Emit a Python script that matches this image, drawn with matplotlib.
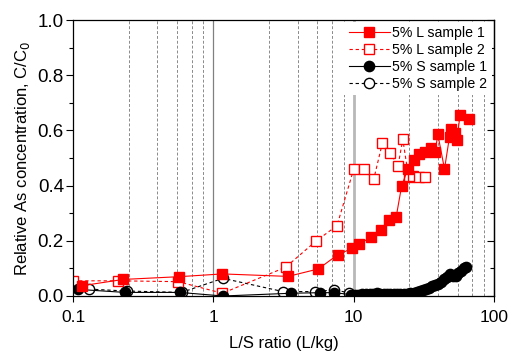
import matplotlib
matplotlib.use("Agg")
import matplotlib.pyplot as plt
from matplotlib.ticker import FixedLocator, NullLocator, MultipleLocator

plt.rcParams['font.family'] = ['Liberation Sans', 'DejaVu Sans']

# ---- data ----
l1_x = [0.115, 0.228, 0.571, 1.16, 3.41, 5.6, 7.73, 9.8, 11.0, 13.4, 15.6, 18.0, 20.1, 22.0,
        24.4, 26.7, 29.2, 32.0, 35.7, 38.1, 39.8, 44.4, 48.2, 49.5, 52.5, 54.3, 57.4, 65.9]
l1_y = [0.037, 0.060, 0.070, 0.080, 0.071, 0.098, 0.150, 0.173, 0.188, 0.215, 0.239, 0.275, 0.287, 0.400,
        0.461, 0.493, 0.513, 0.523, 0.535, 0.523, 0.586, 0.460, 0.577, 0.604, 0.590, 0.565, 0.656, 0.641]

l2_x = [0.10, 0.21, 0.56, 1.16, 3.27, 5.42, 7.61, 10.0, 11.8, 13.9, 16.0, 18.3, 20.7, 22.4,
        24.6, 26.6, 29.2, 32.1]
l2_y = [0.055, 0.055, 0.052, 0.010, 0.104, 0.200, 0.255, 0.459, 0.459, 0.423, 0.553, 0.517, 0.471, 0.568,
        0.432, 0.436, 0.432, 0.430]

s1_x = [0.109, 0.234, 0.574, 1.17, 3.6, 5.8, 7.3,
        9.6, 10.2, 10.8, 11.5, 12.2, 13.0, 13.8, 14.6, 15.5, 16.4, 17.3, 18.3, 19.3, 20.4, 21.5,
        22.7, 24.0, 25.3, 26.7, 28.1, 29.6, 31.2, 32.8, 34.5, 36.3, 38.2, 40.1, 42.1, 44.2, 46.4,
        48.6, 50.9, 53.3, 55.8, 58.3, 60.9, 63.5]
s1_y = [0.024, 0.013, 0.013, 0.000, 0.010, 0.012, 0.012,
        0.005, 0.004, 0.005, 0.006, 0.008, 0.009, 0.009, 0.010, 0.009, 0.009, 0.008, 0.008, 0.008, 0.007, 0.007,
        0.008, 0.009, 0.010, 0.012, 0.015, 0.018, 0.022, 0.026, 0.030, 0.035, 0.040, 0.045, 0.052, 0.060, 0.070,
        0.080, 0.072, 0.074, 0.082, 0.092, 0.100, 0.105]

s2_x = [0.13, 0.241, 0.594, 1.17, 3.14, 5.28, 7.3, 9.2]
s2_y = [0.025, 0.018, 0.013, 0.064, 0.016, 0.016, 0.022, 0.012]

stage_dashed = [0.25, 0.4, 0.55, 0.7, 0.85, 2.5, 4, 5.5, 7, 8.5, 25, 40, 55, 70, 85]

xticks = [0.1, 1, 10, 100]
xtick_labels = ['0.1', '1', '10', '100']
yticks = [0.0, 0.2, 0.4, 0.6, 0.8, 1.0]

labels = ['5% L sample 1', '5% L sample 2', '5% S sample 1', '5% S sample 2']

# ---- figure ----
fig = plt.figure(figsize=(5.12, 3.51), dpi=100)
ax = fig.add_axes([0.1426, 0.1567, 0.8222, 0.7863])
ax.set_xscale('log')
ax.set_xlim(0.1, 100)
ax.set_ylim(0.0, 1.0)

for v in stage_dashed:
    ax.axvline(v, color='#8a8a8a', lw=0.7, ls=(0, (3, 2)), zorder=0)
ax.axvline(1, color='#808080', lw=0.9, zorder=0)
ax.axvline(10, color='#b8b8b8', lw=2.0, zorder=0)

ms = 7.4
h_s2, = ax.plot(s2_x, s2_y, ls='--', color='black', lw=0.8, marker='o', ms=ms,
                mfc='white', mec='black', mew=1.0, label=labels[3], dashes=(3, 2.5))
h_l2, = ax.plot(l2_x, l2_y, ls='--', color='red', lw=0.8, marker='s', ms=ms,
                mfc='white', mec='red', mew=1.0, label=labels[1], dashes=(3, 2.5))
h_s1, = ax.plot(s1_x, s1_y, ls='-', color='black', lw=0.8, marker='o', ms=ms,
                mfc='black', mec='black', label=labels[2])
h_l1, = ax.plot(l1_x, l1_y, ls='-', color='red', lw=0.8, marker='s', ms=ms,
                mfc='red', mec='red', label=labels[0])

ax.xaxis.set_major_locator(FixedLocator(xticks))
ax.set_xticklabels(xtick_labels)
ax.xaxis.set_minor_locator(NullLocator())
ax.set_yticks(yticks)
ax.set_yticklabels(['%.1f' % v for v in yticks])
ax.yaxis.set_minor_locator(MultipleLocator(0.1))

ax.tick_params(axis='x', labelsize=12.5)
ax.tick_params(axis='y', labelsize=13.5)
ax.tick_params(axis='y', which='major', direction='out', length=5, width=0.8, pad=1.5)
ax.tick_params(axis='y', which='minor', direction='out', length=3, width=0.8)
ax.tick_params(axis='x', which='major', direction='out', length=4, width=0.8, pad=6)
for sp in ax.spines.values():
    sp.set_linewidth(0.9)

# right axis with inward ticks, no labels
sec = ax.secondary_yaxis('right')
sec.set_yticks(yticks)
sec.yaxis.set_minor_locator(MultipleLocator(0.1))
sec.tick_params(which='major', direction='in', length=5, width=0.8, labelright=False)
sec.tick_params(which='minor', direction='in', length=3, width=0.8)
sec.spines['right'].set_linewidth(0.9)

ax.set_ylabel('Relative As concentration, C/C$_0$', fontsize=12)
ax.set_xlabel('L/S ratio (L/kg)', fontsize=12, labelpad=8)

leg = ax.legend(handles=[h_l1, h_l2, h_s1, h_s2], loc='upper right', fontsize=10.2,
                frameon=True, framealpha=1.0, edgecolor='none', facecolor='white',
                handlelength=2.9, handletextpad=0.2, borderpad=0.3, labelspacing=0.2,
                borderaxespad=0.15, fancybox=False)

fig.savefig('out.png', dpi=100)
